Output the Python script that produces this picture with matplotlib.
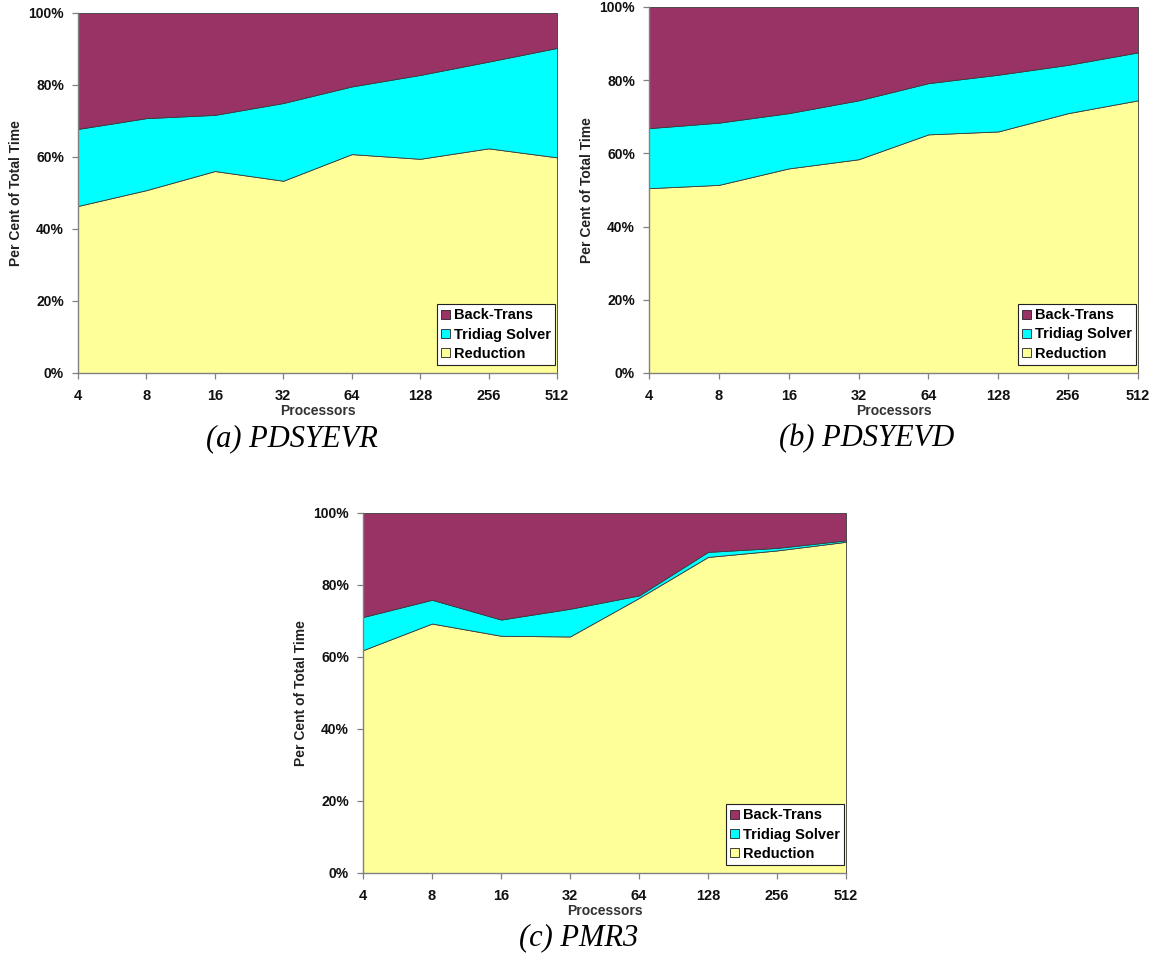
import matplotlib
matplotlib.use("Agg")
import matplotlib.pyplot as plt
from matplotlib.patches import Patch
from matplotlib.ticker import FuncFormatter

processors = ["4", "8", "16", "32", "64", "128", "256", "512"]
series_names = ["Reduction", "Tridiag Solver", "Back-Trans"]

# Per cent of total time (segments)
reduction_a = [46.4, 50.8, 56.1, 53.4, 60.8, 59.5, 62.4, 59.9]
tridiag_a = [21.4, 20.0, 15.6, 21.6, 18.8, 23.3, 24.1, 30.4]
backtrans_a = [32.2, 29.2, 28.3, 25.0, 20.4, 17.2, 13.5, 9.7]

reduction_b = [50.5, 51.4, 55.9, 58.4, 65.2, 66.0, 71.0, 74.5]
tridiag_b = [16.4, 17.0, 15.1, 16.1, 14.0, 15.5, 13.2, 13.1]
backtrans_b = [33.1, 31.6, 29.0, 25.5, 20.8, 18.5, 15.8, 12.4]

reduction_c = [61.9, 69.3, 65.9, 65.7, 76.4, 87.8, 89.6, 92.0]
tridiag_c = [9.2, 6.6, 4.5, 7.7, 0.7, 1.4, 0.7, 0.4]
backtrans_c = [28.9, 24.1, 29.6, 26.6, 22.9, 10.8, 9.7, 7.6]

captions = ["(a) PDSYEVR", "(b) PDSYEVD", "(c) PMR3"]

colors = ["#FFFF99", "#00FFFF", "#993366"]

plt.rcParams["font.family"] = ["Liberation Sans", "DejaVu Sans"]
plt.rcParams["font.weight"] = "bold"

fig = plt.figure(figsize=(11.56, 9.68), dpi=100)

W, H = 1156.0, 968.0
boxes = [
    (78, 557, 13, 373),
    (649, 1138, 7, 373),
    (363, 846, 513, 873),
]
data = [
    (reduction_a, tridiag_a, backtrans_a),
    (reduction_b, tridiag_b, backtrans_b),
    (reduction_c, tridiag_c, backtrans_c),
]
caption_pos = [(292, 439), (867, 439), (579, 938)]

for (l, r, t, b), (red, tri, back), cap, (cx, cy) in zip(boxes, data, captions, caption_pos):
    ax = fig.add_axes([l / W, 1 - b / H, (r - l) / W, (b - t) / H])
    x = list(range(len(processors)))
    ax.stackplot(x, red, tri, back, colors=colors, edgecolor="#3a3a3a", linewidth=0.6)
    ax.set_xlim(0, len(processors) - 1)
    ax.set_ylim(0, 100)
    ax.set_xticks(x)
    ax.set_xticklabels(processors)
    ax.set_yticks([0, 20, 40, 60, 80, 100])
    ax.yaxis.set_major_formatter(FuncFormatter(lambda v, p: f"{int(v)}%"))
    ax.tick_params(axis="both", direction="out", length=4, width=0.9, labelsize=10, color="#808080")
    ax.tick_params(axis="x", pad=7.5, labelsize=10.5)
    ax.tick_params(axis="y", pad=6)
    for lab in ax.get_xticklabels() + ax.get_yticklabels():
        lab.set_fontweight("bold")
        lab.set_color("#111111")
    for s in ["top", "right"]:
        ax.spines[s].set_visible(False)
    for s in ["left", "bottom"]:
        ax.spines[s].set_color("#808080")
        ax.spines[s].set_linewidth(1.0)
    ax.set_xlabel("Processors", fontsize=10, fontweight="bold", color="#333333", labelpad=1)
    ax.set_ylabel("Per Cent of Total Time", fontsize=10, fontweight="bold", color="#222222", labelpad=4)
    handles = [Patch(facecolor=colors[2], edgecolor="#222222", linewidth=0.6),
               Patch(facecolor=colors[1], edgecolor="#222222", linewidth=0.6),
               Patch(facecolor=colors[0], edgecolor="#222222", linewidth=0.6)]
    leg = ax.legend(handles, [series_names[2], series_names[1], series_names[0]],
                    loc="lower right", fontsize=10.5, frameon=True, fancybox=False,
                    edgecolor="#222222", framealpha=1.0, handlelength=0.6, handleheight=0.6,
                    handletextpad=0.25, borderpad=0.3, labelspacing=0.35,
                    borderaxespad=0.0, bbox_to_anchor=(0.996, 0.022))
    leg.get_frame().set_linewidth(0.8)
    for txt in leg.get_texts():
        txt.set_fontweight("bold")
    fig.text(cx / W, 1 - cy / H, cap, ha="center", va="center", fontsize=22,
             family=["Liberation Serif", "DejaVu Serif"], style="italic", weight="normal")

fig.savefig("out.png", dpi=100)
